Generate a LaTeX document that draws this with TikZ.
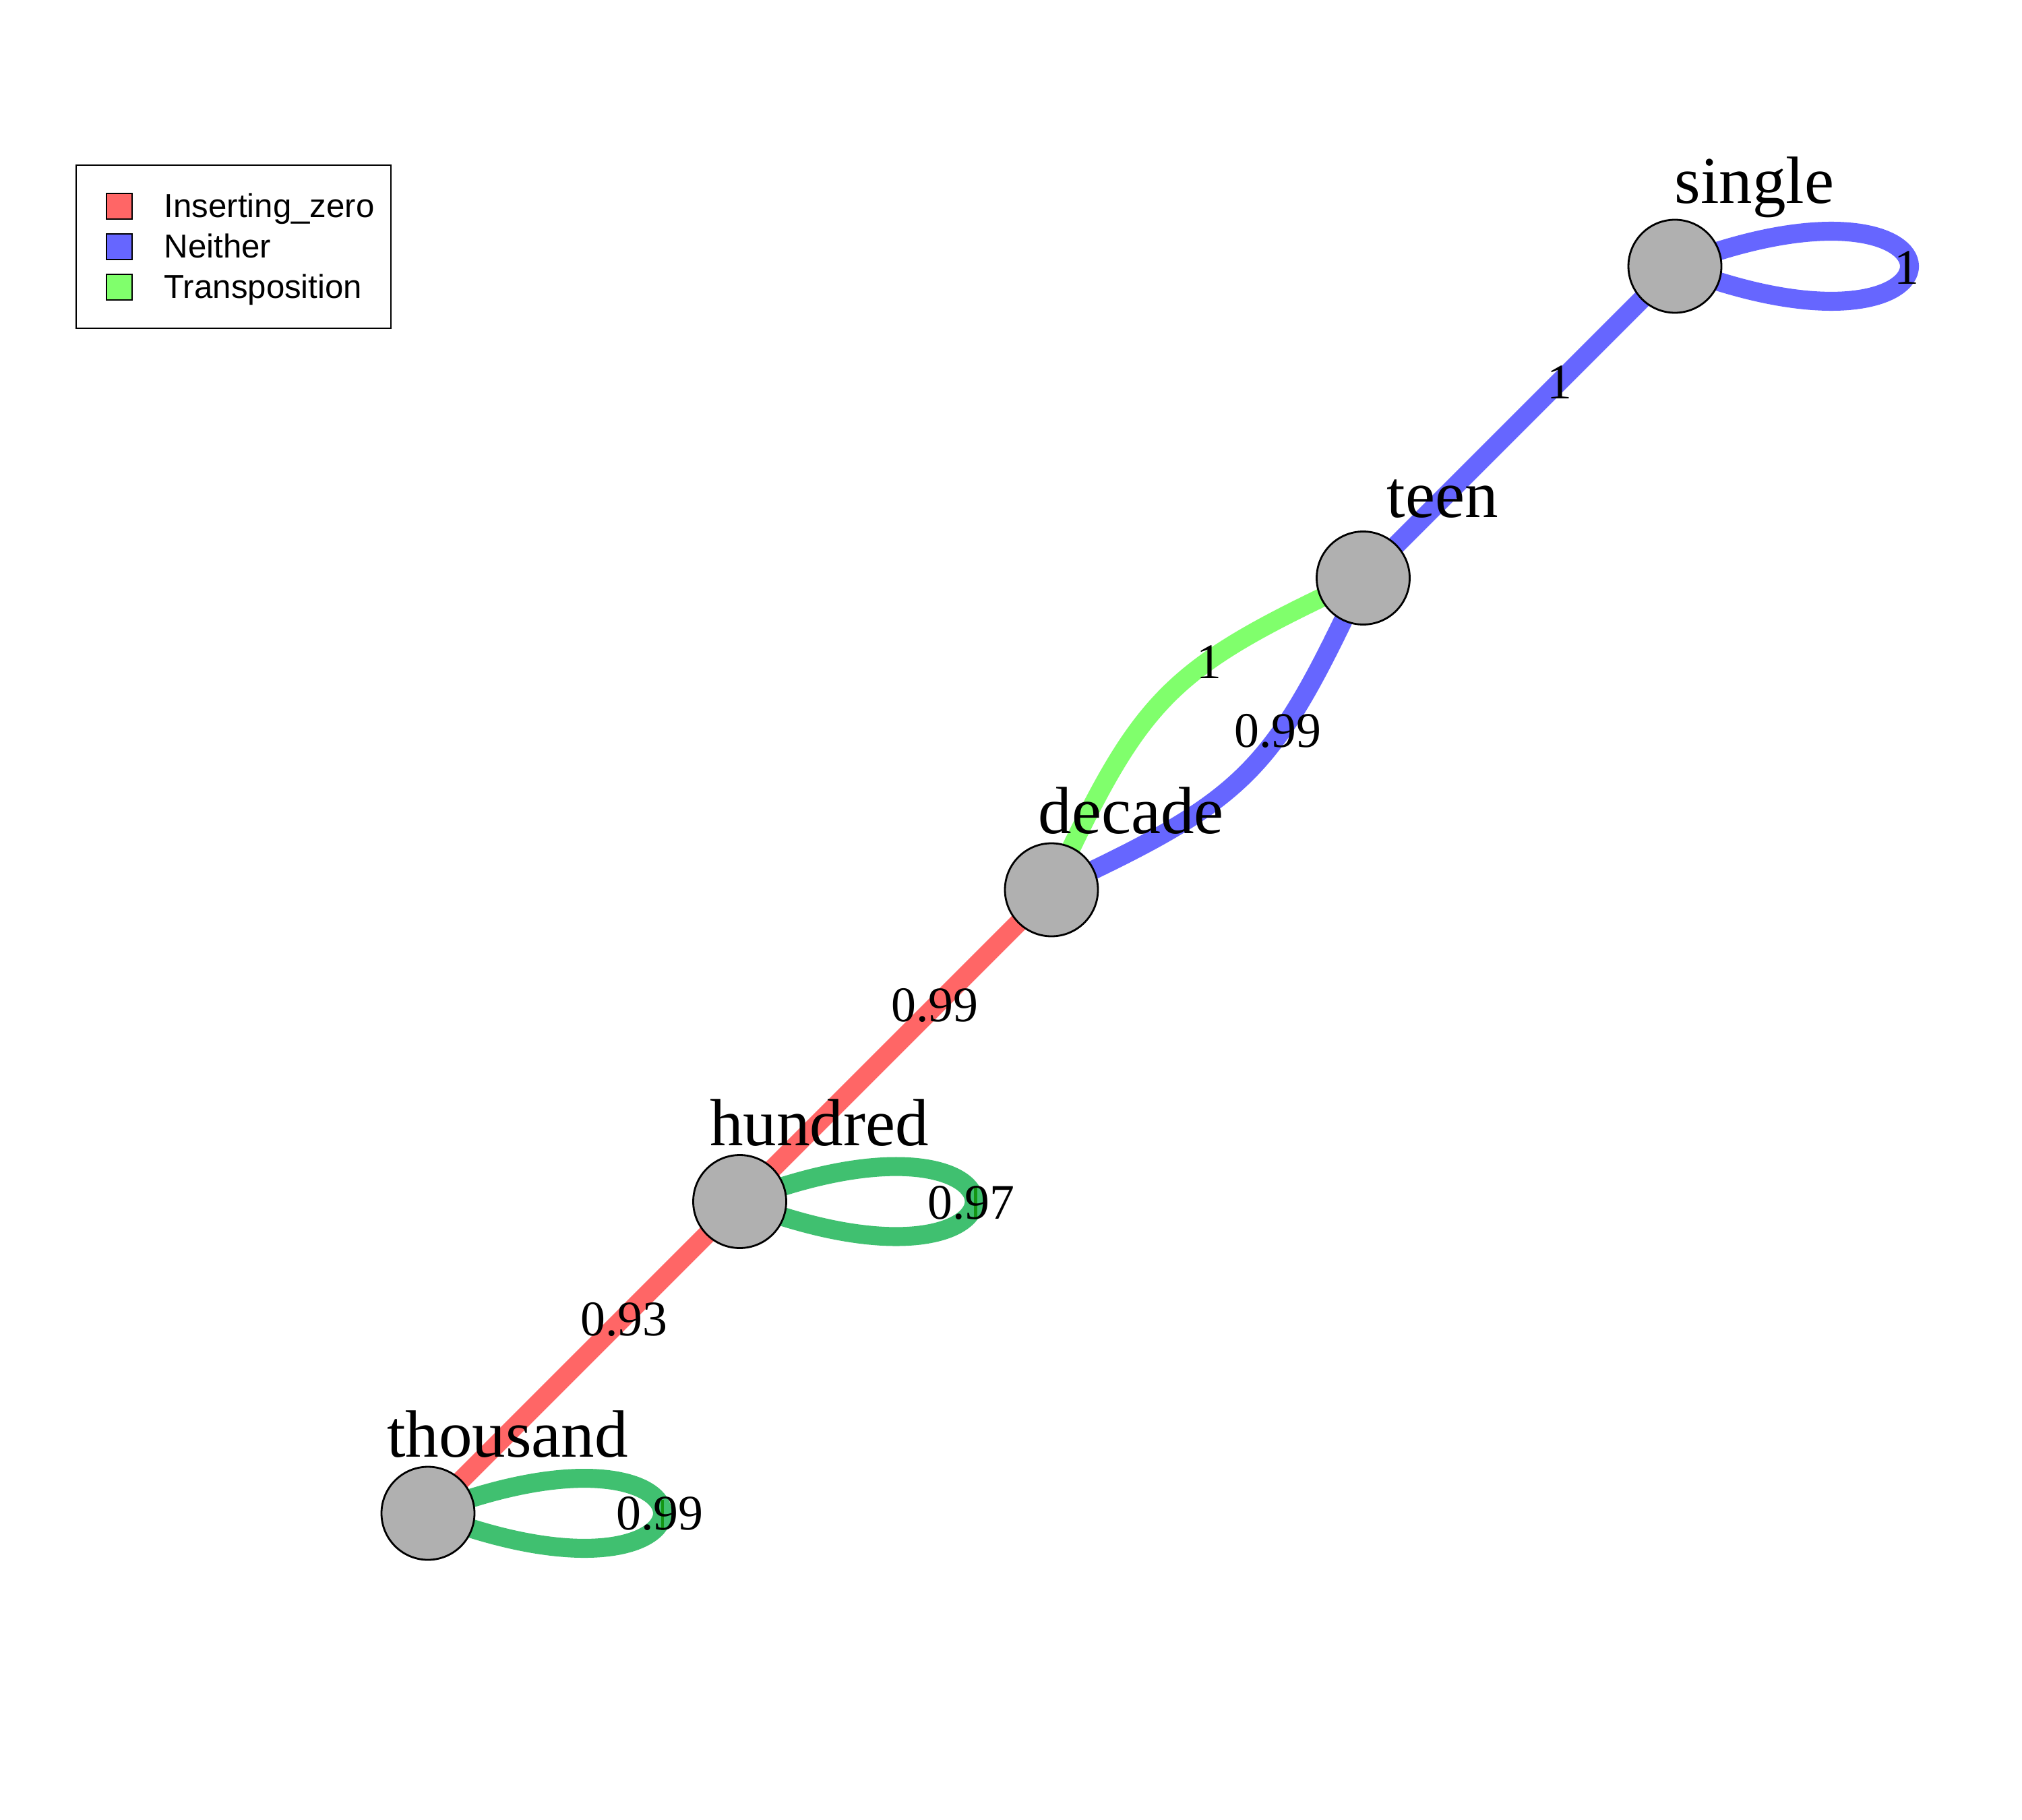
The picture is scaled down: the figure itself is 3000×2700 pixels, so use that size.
\documentclass[tikz,border=0pt]{standalone}
\usepackage{fontspec}
\setmainfont{Liberation Serif}
\newfontfamily\legendfont{Liberation Sans}
\usetikzlibrary{backgrounds}
\definecolor{nodegray}{RGB}{176,176,176}
\definecolor{ered}{RGB}{255,102,102}
\definecolor{eblue}{RGB}{102,102,255}
\definecolor{egreen}{RGB}{128,255,108}
\definecolor{lgreen}{RGB}{64,192,112}
\definecolor{mgreen}{RGB}{20,150,20}
\tikzset{
  vtx/.style={circle, draw=black, line width=0.8pt, fill=nodegray, minimum size=13.8mm, inner sep=0pt},
  vlabel/.style={inner sep=0pt, font=\fontsize{28.2pt}{30pt}\selectfont},
  elabel/.style={inner sep=0pt, font=\fontsize{21pt}{23pt}\selectfont},
  edgeline/.style={line width=8pt},
  legtext/.style={inner sep=0pt, anchor=base west, font=\legendfont\fontsize{14pt}{16pt}\selectfont},
  legsq/.style={draw=black, line width=0.6pt, minimum size=3.8mm, inner sep=0pt}
}
\begin{document}
\begin{tikzpicture}[x=0.1mm, y=-0.1mm]
\useasboundingbox (0,0) rectangle (3000,2700);
% vertices
\node[vtx] (single) at (2485,395) {};
\node[vtx] (teen) at (2022.5,857.5) {};
\node[vtx] (decade) at (1560,1320) {};
\node[vtx] (hundred) at (1097.5,1782.5) {};
\node[vtx] (thousand) at (635,2245) {};
% vertex labels
\node[vlabel] (lsingle) at (2603,278) {single};
\node[vlabel] (lteen) at (2140.5,740.5) {teen};
\node[vlabel] (ldecade) at (1678,1203) {decade};
\node[vlabel] (lhundred) at (1215.5,1665.5) {hundred};
\node[vlabel] (lthousand) at (753,2128) {thousand};
% edges
\begin{pgfonlayer}{background}
\fill[white] (0,0) rectangle (3000,2700);
\draw[edgeline, eblue] (single.center) .. controls +(464,-180) and +(464,180) .. (single.center);
\draw[edgeline, eblue] (teen.center) -- (single.center);
\draw[edgeline, egreen] (teen.center) .. controls +(-290,135) and +(135,-290) .. (decade.center);
\draw[edgeline, eblue] (teen.center) .. controls +(-135,290) and +(290,-135) .. (decade.center);
\draw[edgeline, ered] (decade.center) -- (hundred.center);
\draw[edgeline, ered] (hundred.center) -- (thousand.center);
\draw[edgeline, lgreen] (hundred.center) .. controls +(464,-180) and +(464,180) .. (hundred.center);
\draw[edgeline, lgreen] (thousand.center) .. controls +(464,-180) and +(464,180) .. (thousand.center);
\draw[mgreen, line width=1.4pt] ([shift={(350,-24)}]hundred.center) -- ([shift={(350,26)}]hundred.center);
\draw[mgreen, line width=1.4pt] ([shift={(348,-20)}]thousand.center) -- ([shift={(348,25)}]thousand.center);
\end{pgfonlayer}
% edge labels
\node[elabel] (w1) at (2314,567) {1};
\node[elabel] (w2) at (2829,397) {1};
\node[elabel] (w3) at (1794,982) {1};
\node[elabel] (w4) at (1896,1084) {0.99};
\node[elabel] (w5) at (1387,1491) {0.99};
\node[elabel] (w6) at (1441,1784) {0.97};
\node[elabel] (w7) at (926,1957) {0.93};
\node[elabel] (w8) at (979,2245) {0.99};
% legend
\draw[line width=0.6pt] (113,245) rectangle (580,487);
\node[legsq, fill=ered] (sq1) at (177,306) {};
\node[legsq, fill=eblue] (sq2) at (177,366) {};
\node[legsq, fill=egreen] (sq3) at (177,426) {};
\node[legtext] (t1) at (243,323) {Inserting\_zero};
\node[legtext] (t2) at (243,383) {Neither};
\node[legtext] (t3) at (243,443) {Transposition};
\end{tikzpicture}
\end{document}
